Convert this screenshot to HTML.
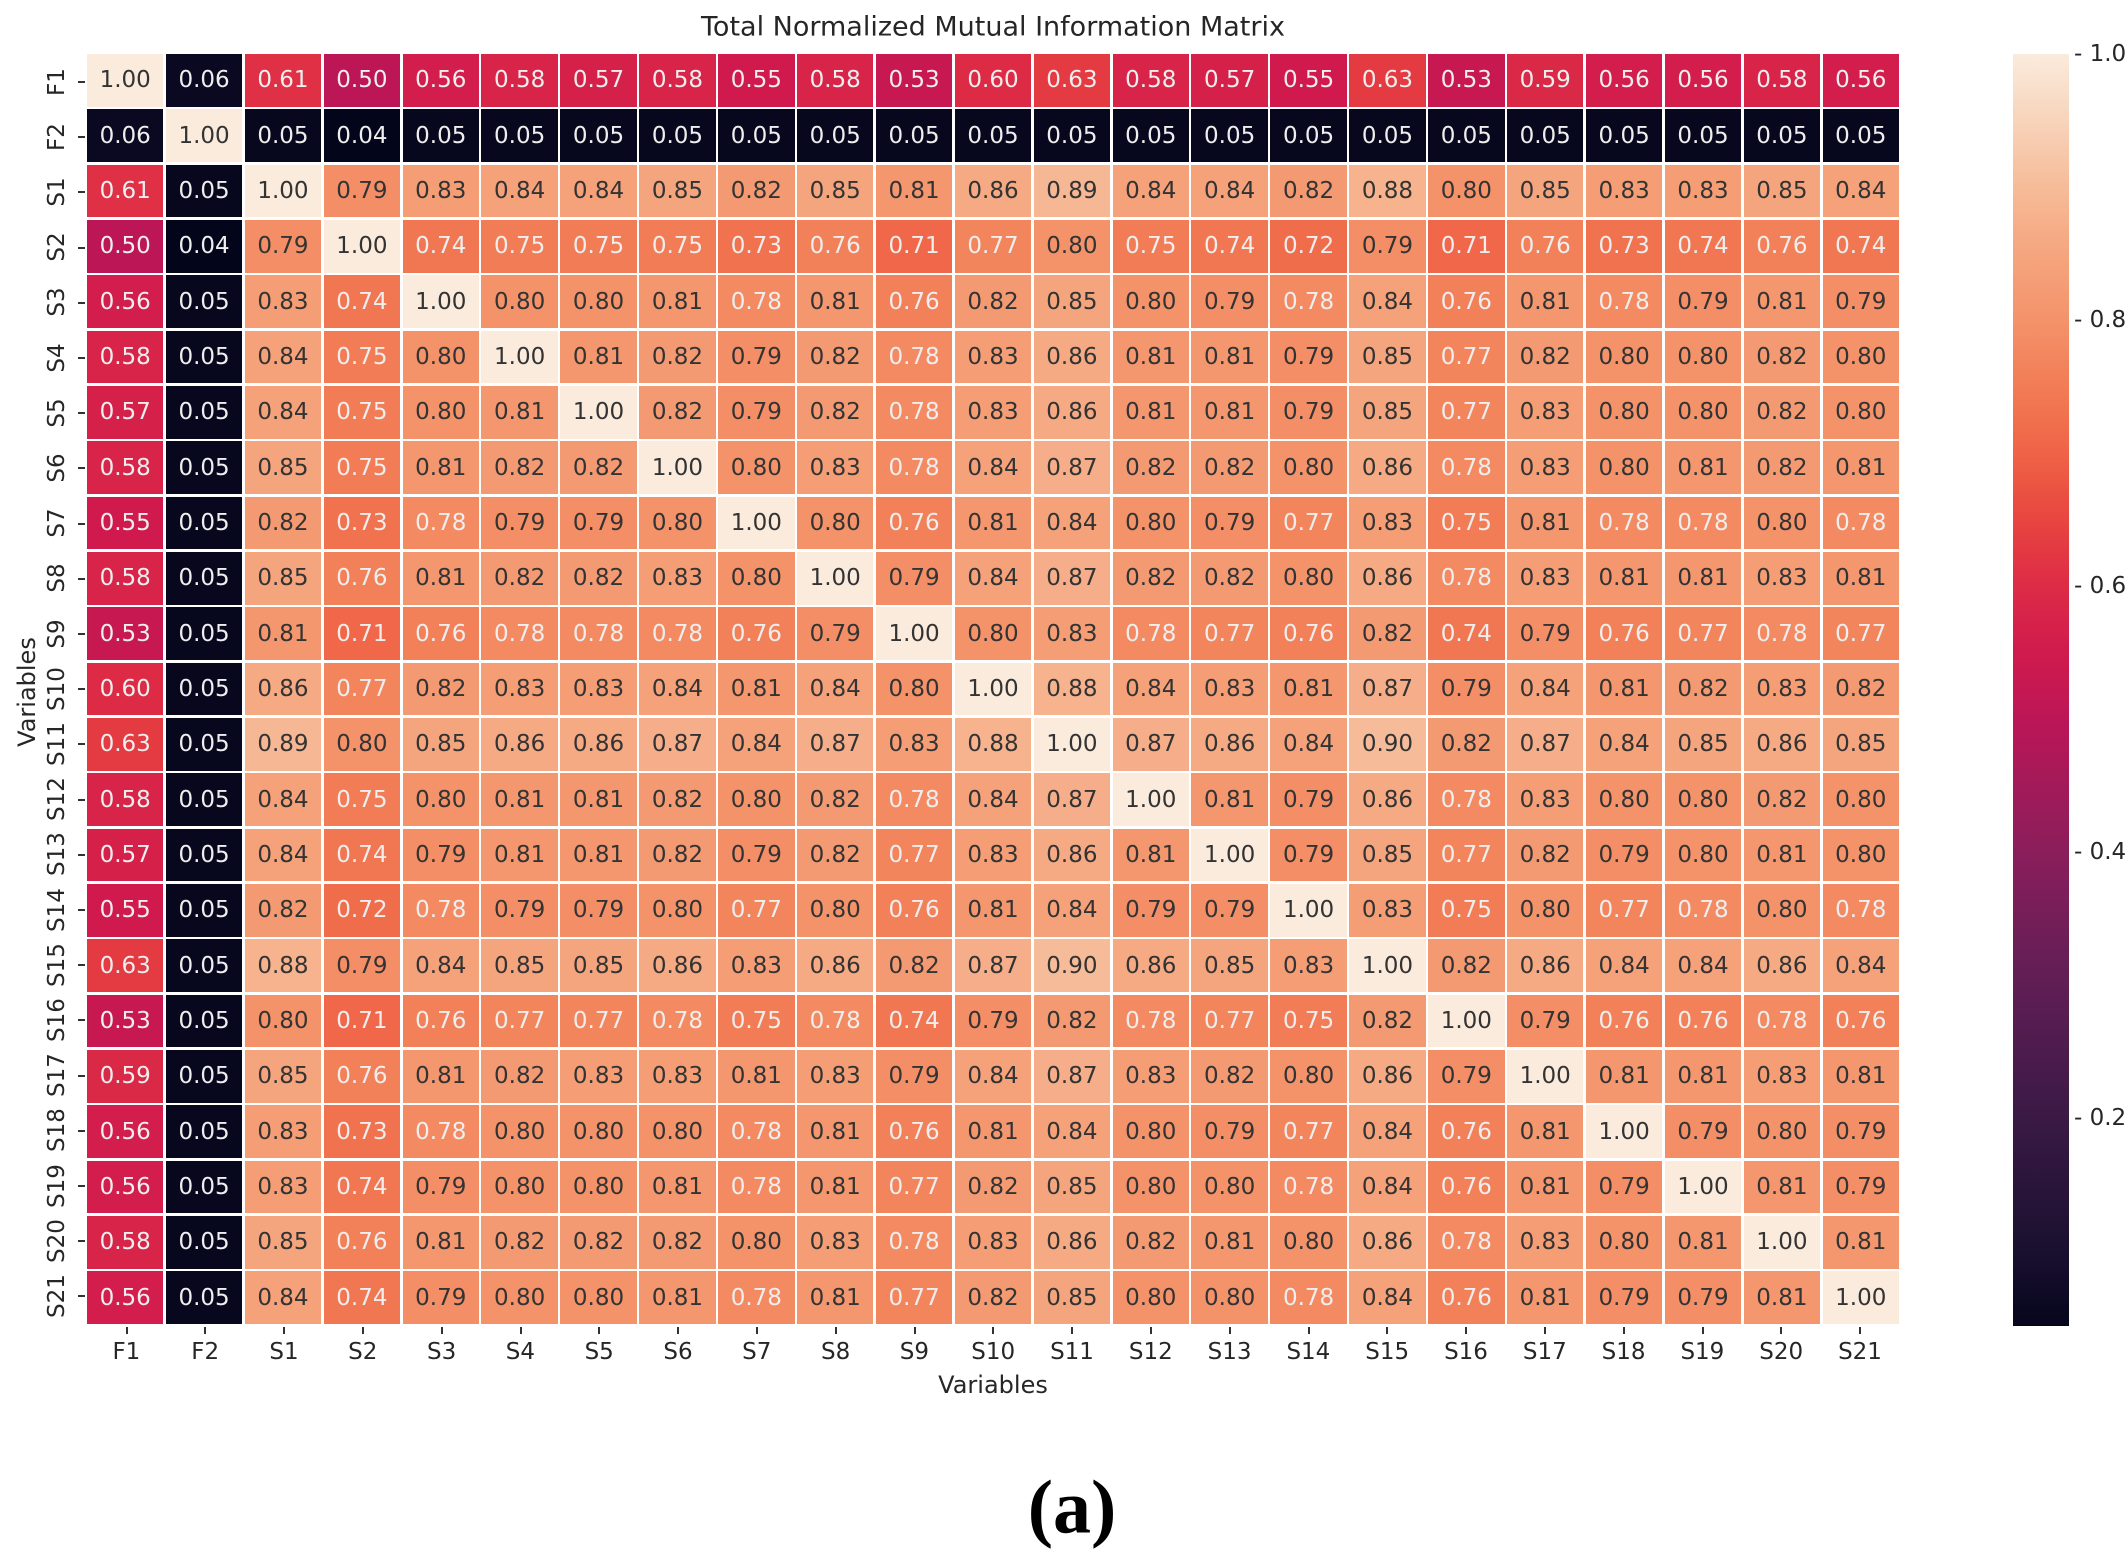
<!DOCTYPE html>
<html><head><meta charset="utf-8"><style>
body{margin:0;width:2128px;height:1564px;background:#fff;position:relative;overflow:hidden;font-family:"DejaVu Sans","Liberation Sans",sans-serif;color:#262626}
#g{position:absolute;left:87px;top:54px;width:1812px;height:1270px;display:grid;grid-template-columns:repeat(23,1fr);grid-template-rows:repeat(23,1fr);gap:2.5px;background:#fff}
#g i{font-style:normal;display:flex;align-items:center;justify-content:center;font-size:23px}
.t{position:absolute;font-size:24px;white-space:nowrap}
.yl{position:absolute;left:57px;transform:translate(-50%,-50%) rotate(-90deg);font-size:23px;white-space:nowrap}
.xl{position:absolute;top:1352px;transform:translate(-50%,-50%);font-size:23px}
.tk{position:absolute;background:#333}
</style></head><body>
<div class="t" style="left:993px;top:27px;transform:translate(-50%,-50%);font-size:27px">Total Normalized Mutual Information Matrix</div>
<div class="t" style="left:993px;top:1385px;transform:translate(-50%,-50%)">Variables</div>
<div class="t" style="left:27px;top:692px;transform:translate(-50%,-50%) rotate(-90deg)">Variables</div>
<div style="position:absolute;left:1072px;top:1508px;transform:translate(-50%,-50%);font-family:'Liberation Serif',serif;font-weight:bold;font-size:76px;color:#000">(a)</div>
<div id="g">
<i>1.00</i><i>0.06</i><i>0.61</i><i>0.50</i><i>0.56</i><i>0.58</i><i>0.57</i><i>0.58</i><i>0.55</i><i>0.58</i><i>0.53</i><i>0.60</i><i>0.63</i><i>0.58</i><i>0.57</i><i>0.55</i><i>0.63</i><i>0.53</i><i>0.59</i><i>0.56</i><i>0.56</i><i>0.58</i><i>0.56</i>
<i>0.06</i><i>1.00</i><i>0.05</i><i>0.04</i><i>0.05</i><i>0.05</i><i>0.05</i><i>0.05</i><i>0.05</i><i>0.05</i><i>0.05</i><i>0.05</i><i>0.05</i><i>0.05</i><i>0.05</i><i>0.05</i><i>0.05</i><i>0.05</i><i>0.05</i><i>0.05</i><i>0.05</i><i>0.05</i><i>0.05</i>
<i>0.61</i><i>0.05</i><i>1.00</i><i>0.79</i><i>0.83</i><i>0.84</i><i>0.84</i><i>0.85</i><i>0.82</i><i>0.85</i><i>0.81</i><i>0.86</i><i>0.89</i><i>0.84</i><i>0.84</i><i>0.82</i><i>0.88</i><i>0.80</i><i>0.85</i><i>0.83</i><i>0.83</i><i>0.85</i><i>0.84</i>
<i>0.50</i><i>0.04</i><i>0.79</i><i>1.00</i><i>0.74</i><i>0.75</i><i>0.75</i><i>0.75</i><i>0.73</i><i>0.76</i><i>0.71</i><i>0.77</i><i>0.80</i><i>0.75</i><i>0.74</i><i>0.72</i><i>0.79</i><i>0.71</i><i>0.76</i><i>0.73</i><i>0.74</i><i>0.76</i><i>0.74</i>
<i>0.56</i><i>0.05</i><i>0.83</i><i>0.74</i><i>1.00</i><i>0.80</i><i>0.80</i><i>0.81</i><i>0.78</i><i>0.81</i><i>0.76</i><i>0.82</i><i>0.85</i><i>0.80</i><i>0.79</i><i>0.78</i><i>0.84</i><i>0.76</i><i>0.81</i><i>0.78</i><i>0.79</i><i>0.81</i><i>0.79</i>
<i>0.58</i><i>0.05</i><i>0.84</i><i>0.75</i><i>0.80</i><i>1.00</i><i>0.81</i><i>0.82</i><i>0.79</i><i>0.82</i><i>0.78</i><i>0.83</i><i>0.86</i><i>0.81</i><i>0.81</i><i>0.79</i><i>0.85</i><i>0.77</i><i>0.82</i><i>0.80</i><i>0.80</i><i>0.82</i><i>0.80</i>
<i>0.57</i><i>0.05</i><i>0.84</i><i>0.75</i><i>0.80</i><i>0.81</i><i>1.00</i><i>0.82</i><i>0.79</i><i>0.82</i><i>0.78</i><i>0.83</i><i>0.86</i><i>0.81</i><i>0.81</i><i>0.79</i><i>0.85</i><i>0.77</i><i>0.83</i><i>0.80</i><i>0.80</i><i>0.82</i><i>0.80</i>
<i>0.58</i><i>0.05</i><i>0.85</i><i>0.75</i><i>0.81</i><i>0.82</i><i>0.82</i><i>1.00</i><i>0.80</i><i>0.83</i><i>0.78</i><i>0.84</i><i>0.87</i><i>0.82</i><i>0.82</i><i>0.80</i><i>0.86</i><i>0.78</i><i>0.83</i><i>0.80</i><i>0.81</i><i>0.82</i><i>0.81</i>
<i>0.55</i><i>0.05</i><i>0.82</i><i>0.73</i><i>0.78</i><i>0.79</i><i>0.79</i><i>0.80</i><i>1.00</i><i>0.80</i><i>0.76</i><i>0.81</i><i>0.84</i><i>0.80</i><i>0.79</i><i>0.77</i><i>0.83</i><i>0.75</i><i>0.81</i><i>0.78</i><i>0.78</i><i>0.80</i><i>0.78</i>
<i>0.58</i><i>0.05</i><i>0.85</i><i>0.76</i><i>0.81</i><i>0.82</i><i>0.82</i><i>0.83</i><i>0.80</i><i>1.00</i><i>0.79</i><i>0.84</i><i>0.87</i><i>0.82</i><i>0.82</i><i>0.80</i><i>0.86</i><i>0.78</i><i>0.83</i><i>0.81</i><i>0.81</i><i>0.83</i><i>0.81</i>
<i>0.53</i><i>0.05</i><i>0.81</i><i>0.71</i><i>0.76</i><i>0.78</i><i>0.78</i><i>0.78</i><i>0.76</i><i>0.79</i><i>1.00</i><i>0.80</i><i>0.83</i><i>0.78</i><i>0.77</i><i>0.76</i><i>0.82</i><i>0.74</i><i>0.79</i><i>0.76</i><i>0.77</i><i>0.78</i><i>0.77</i>
<i>0.60</i><i>0.05</i><i>0.86</i><i>0.77</i><i>0.82</i><i>0.83</i><i>0.83</i><i>0.84</i><i>0.81</i><i>0.84</i><i>0.80</i><i>1.00</i><i>0.88</i><i>0.84</i><i>0.83</i><i>0.81</i><i>0.87</i><i>0.79</i><i>0.84</i><i>0.81</i><i>0.82</i><i>0.83</i><i>0.82</i>
<i>0.63</i><i>0.05</i><i>0.89</i><i>0.80</i><i>0.85</i><i>0.86</i><i>0.86</i><i>0.87</i><i>0.84</i><i>0.87</i><i>0.83</i><i>0.88</i><i>1.00</i><i>0.87</i><i>0.86</i><i>0.84</i><i>0.90</i><i>0.82</i><i>0.87</i><i>0.84</i><i>0.85</i><i>0.86</i><i>0.85</i>
<i>0.58</i><i>0.05</i><i>0.84</i><i>0.75</i><i>0.80</i><i>0.81</i><i>0.81</i><i>0.82</i><i>0.80</i><i>0.82</i><i>0.78</i><i>0.84</i><i>0.87</i><i>1.00</i><i>0.81</i><i>0.79</i><i>0.86</i><i>0.78</i><i>0.83</i><i>0.80</i><i>0.80</i><i>0.82</i><i>0.80</i>
<i>0.57</i><i>0.05</i><i>0.84</i><i>0.74</i><i>0.79</i><i>0.81</i><i>0.81</i><i>0.82</i><i>0.79</i><i>0.82</i><i>0.77</i><i>0.83</i><i>0.86</i><i>0.81</i><i>1.00</i><i>0.79</i><i>0.85</i><i>0.77</i><i>0.82</i><i>0.79</i><i>0.80</i><i>0.81</i><i>0.80</i>
<i>0.55</i><i>0.05</i><i>0.82</i><i>0.72</i><i>0.78</i><i>0.79</i><i>0.79</i><i>0.80</i><i>0.77</i><i>0.80</i><i>0.76</i><i>0.81</i><i>0.84</i><i>0.79</i><i>0.79</i><i>1.00</i><i>0.83</i><i>0.75</i><i>0.80</i><i>0.77</i><i>0.78</i><i>0.80</i><i>0.78</i>
<i>0.63</i><i>0.05</i><i>0.88</i><i>0.79</i><i>0.84</i><i>0.85</i><i>0.85</i><i>0.86</i><i>0.83</i><i>0.86</i><i>0.82</i><i>0.87</i><i>0.90</i><i>0.86</i><i>0.85</i><i>0.83</i><i>1.00</i><i>0.82</i><i>0.86</i><i>0.84</i><i>0.84</i><i>0.86</i><i>0.84</i>
<i>0.53</i><i>0.05</i><i>0.80</i><i>0.71</i><i>0.76</i><i>0.77</i><i>0.77</i><i>0.78</i><i>0.75</i><i>0.78</i><i>0.74</i><i>0.79</i><i>0.82</i><i>0.78</i><i>0.77</i><i>0.75</i><i>0.82</i><i>1.00</i><i>0.79</i><i>0.76</i><i>0.76</i><i>0.78</i><i>0.76</i>
<i>0.59</i><i>0.05</i><i>0.85</i><i>0.76</i><i>0.81</i><i>0.82</i><i>0.83</i><i>0.83</i><i>0.81</i><i>0.83</i><i>0.79</i><i>0.84</i><i>0.87</i><i>0.83</i><i>0.82</i><i>0.80</i><i>0.86</i><i>0.79</i><i>1.00</i><i>0.81</i><i>0.81</i><i>0.83</i><i>0.81</i>
<i>0.56</i><i>0.05</i><i>0.83</i><i>0.73</i><i>0.78</i><i>0.80</i><i>0.80</i><i>0.80</i><i>0.78</i><i>0.81</i><i>0.76</i><i>0.81</i><i>0.84</i><i>0.80</i><i>0.79</i><i>0.77</i><i>0.84</i><i>0.76</i><i>0.81</i><i>1.00</i><i>0.79</i><i>0.80</i><i>0.79</i>
<i>0.56</i><i>0.05</i><i>0.83</i><i>0.74</i><i>0.79</i><i>0.80</i><i>0.80</i><i>0.81</i><i>0.78</i><i>0.81</i><i>0.77</i><i>0.82</i><i>0.85</i><i>0.80</i><i>0.80</i><i>0.78</i><i>0.84</i><i>0.76</i><i>0.81</i><i>0.79</i><i>1.00</i><i>0.81</i><i>0.79</i>
<i>0.58</i><i>0.05</i><i>0.85</i><i>0.76</i><i>0.81</i><i>0.82</i><i>0.82</i><i>0.82</i><i>0.80</i><i>0.83</i><i>0.78</i><i>0.83</i><i>0.86</i><i>0.82</i><i>0.81</i><i>0.80</i><i>0.86</i><i>0.78</i><i>0.83</i><i>0.80</i><i>0.81</i><i>1.00</i><i>0.81</i>
<i>0.56</i><i>0.05</i><i>0.84</i><i>0.74</i><i>0.79</i><i>0.80</i><i>0.80</i><i>0.81</i><i>0.78</i><i>0.81</i><i>0.77</i><i>0.82</i><i>0.85</i><i>0.80</i><i>0.80</i><i>0.78</i><i>0.84</i><i>0.76</i><i>0.81</i><i>0.79</i><i>0.79</i><i>0.81</i><i>1.00</i>
</div>
<div id="yl"><div class="yl" style="top:81.6px">F1</div><div class="yl" style="top:136.8px">F2</div><div class="yl" style="top:192px">S1</div><div class="yl" style="top:247.2px">S2</div><div class="yl" style="top:302.4px">S3</div><div class="yl" style="top:357.6px">S4</div><div class="yl" style="top:412.8px">S5</div><div class="yl" style="top:468px">S6</div><div class="yl" style="top:523.2px">S7</div><div class="yl" style="top:578.4px">S8</div><div class="yl" style="top:633.6px">S9</div><div class="yl" style="top:688.8px">S10</div><div class="yl" style="top:744px">S11</div><div class="yl" style="top:799.2px">S12</div><div class="yl" style="top:854.4px">S13</div><div class="yl" style="top:909.6px">S14</div><div class="yl" style="top:964.8px">S15</div><div class="yl" style="top:1020px">S16</div><div class="yl" style="top:1075.2px">S17</div><div class="yl" style="top:1130.4px">S18</div><div class="yl" style="top:1185.6px">S19</div><div class="yl" style="top:1240.8px">S20</div><div class="yl" style="top:1296px">S21</div></div>
<div id="xl"><div class="xl" style="left:126.4px">F1</div><div class="xl" style="left:205.2px">F2</div><div class="xl" style="left:284px">S1</div><div class="xl" style="left:362.8px">S2</div><div class="xl" style="left:441.6px">S3</div><div class="xl" style="left:520.4px">S4</div><div class="xl" style="left:599.2px">S5</div><div class="xl" style="left:678px">S6</div><div class="xl" style="left:756.8px">S7</div><div class="xl" style="left:835.6px">S8</div><div class="xl" style="left:914.4px">S9</div><div class="xl" style="left:993.2px">S10</div><div class="xl" style="left:1072px">S11</div><div class="xl" style="left:1150.8px">S12</div><div class="xl" style="left:1229.6px">S13</div><div class="xl" style="left:1308.4px">S14</div><div class="xl" style="left:1387.2px">S15</div><div class="xl" style="left:1466px">S16</div><div class="xl" style="left:1544.8px">S17</div><div class="xl" style="left:1623.6px">S18</div><div class="xl" style="left:1702.4px">S19</div><div class="xl" style="left:1781.2px">S20</div><div class="xl" style="left:1860px">S21</div></div>
<div id="cb" style="position:absolute;left:2013px;top:54px;width:56px;height:1272px"></div>
<div class="t" style="left:2074px;top:54px;transform:translateY(-50%);font-size:23px">- 1.0</div>
<div class="t" style="left:2074px;top:320px;transform:translateY(-50%);font-size:23px">- 0.8</div>
<div class="t" style="left:2074px;top:586px;transform:translateY(-50%);font-size:23px">- 0.6</div>
<div class="t" style="left:2074px;top:852px;transform:translateY(-50%);font-size:23px">- 0.4</div>
<div class="t" style="left:2074px;top:1118px;transform:translateY(-50%);font-size:23px">- 0.2</div>
<script>
var S=[[0.04,[3,5,26]],[0.1,[26,16,48]],[0.2,[58,26,69]],[0.3,[95,30,85]],[0.4,[138,30,91]],[0.5,[188,22,87]],[0.55,[208,26,77]],[0.6,[221,43,70]],[0.65,[232,69,63]],[0.7,[239,99,70]],[0.75,[242,124,85]],[0.8,[244,147,106]],[0.85,[245,165,126]],[0.9,[246,188,153]],[1.0,[250,235,221]]];
function col(v){v=Math.max(0.04,Math.min(1,v));var i=0;while(i<S.length-2&&v>S[i+1][0])i++;var a=S[i],b=S[i+1],f=(v-a[0])/(b[0]-a[0]);
return 'rgb('+[0,1,2].map(function(k){return Math.round(a[1][k]+(b[1][k]-a[1][k])*f)}).join(',')+')';}
document.querySelectorAll('#g i').forEach(function(e){var v=parseFloat(e.textContent);e.style.background=col(v);e.style.color=v<0.785?'#eee':'#333';});
var st=[];for(var k=0;k<=40;k++){var v=1-k*(0.956/40);st.push(col(v)+' '+(k*2.5)+'%');}
document.getElementById('cb').style.background='linear-gradient(to bottom,'+st.join(',')+')';
var h='';for(var r=0;r<23;r++){h+='<div class="tk" style="left:78px;top:'+(81+r*55.2)+'px;width:7px;height:2px"></div>';h+='<div class="tk" style="top:1327px;left:'+(125.5+r*78.8)+'px;width:2px;height:7px"></div>';}
document.body.insertAdjacentHTML('beforeend',h);
</script>
</body></html>
